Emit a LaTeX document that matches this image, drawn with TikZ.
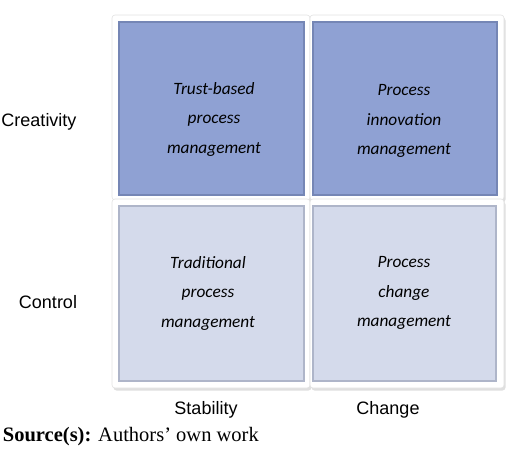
\documentclass[tikz,border=0pt]{standalone}
\usepackage{fontspec}
\setmainfont{Liberation Serif}
\newfontfamily\boxfont{Carlito}
\newfontfamily\labfont{Liberation Sans}
\usetikzlibrary{shadows}

\definecolor{topblue}{HTML}{8FA1D3}
\definecolor{topedge}{HTML}{7586B5}
\definecolor{lowblue}{HTML}{D4DAEB}
\definecolor{lowedge}{HTML}{AEB5C9}
\definecolor{panelgray}{HTML}{E2E2E2}

\tikzset{
  panel/.style={fill=white, draw=panelgray, line width=0.6pt, rounded corners=3pt,
    drop shadow={opacity=0.25, shadow xshift=1.5pt, shadow yshift=-2.5pt}},
  quadtext/.style={align=center, inner sep=0.75pt, font=\boxfont\itshape\fontsize{17.3}{29.5}\selectfont},
  axislab/.style={inner sep=0.75pt, font=\labfont\fontsize{18}{21}\selectfont}
}

\begin{document}
\begin{tikzpicture}[x=1pt,y=1pt,yscale=-1,xscale=1]
\useasboundingbox (0,0) rectangle (520,451);

%Panels
\draw[panel] (112,15) rectangle (310,200);
\draw[panel] (310,15) rectangle (504,200);
\draw[panel] (112,199) rectangle (310,388);
\draw[panel] (310,199) rectangle (504,388);

%Quadrant boxes
\draw[fill=topblue, draw=topedge, line width=2.5pt] (119,22) rectangle (304,195);
\draw[fill=topblue, draw=topedge, line width=2.5pt] (313,22) rectangle (497,195);
\draw[fill=lowblue, draw=lowedge, line width=2.5pt] (119,206) rectangle (304,381);
\draw[fill=lowblue, draw=lowedge, line width=2.5pt] (313,206) rectangle (496,381);

% Text Node
\node[quadtext] (trust) at (214,119) {Trust-based\\process\\management};
% Text Node
\node[quadtext] (innov) at (404,121) {Process\\innovation\\management};
% Text Node
\node[quadtext] (trad) at (208,293) {Traditional\\process\\management};
% Text Node
\node[quadtext] (change) at (404,293) {Process\\change\\management};

% Text Node
\node[axislab] (creat) at (39,122) {Creativity};
% Text Node
\node[axislab] (contr) at (48,302) {Control};
% Text Node
\node[axislab] (stab) at (206,410) {Stability};
% Text Node
\node[axislab] (chg) at (388,410) {Change};

% Text Node
\node[anchor=west, inner sep=0.75pt, font=\fontsize{20.5}{24}\selectfont] (src) at (2,437) {\textbf{Source(s):} Authors’ own work};

\end{tikzpicture}
\end{document}
